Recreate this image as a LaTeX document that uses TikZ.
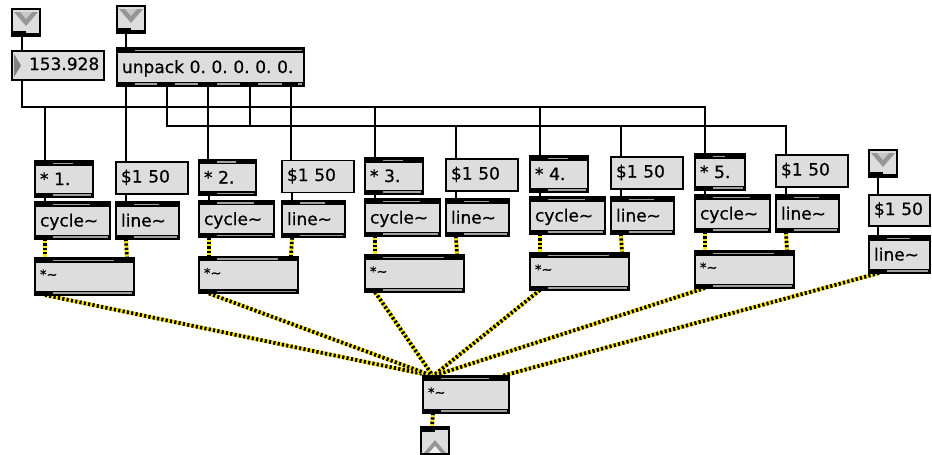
\documentclass[tikz,border=0pt]{standalone}
\usepackage{fontspec}
\setmainfont{DejaVu Sans}
\newfontfamily\mxface{DejaVu Sans}[FakeBold=0.6]
\definecolor{boxfill}{RGB}{221,221,221}
\definecolor{slotgray}{RGB}{160,160,160}
\definecolor{sigyellow}{RGB}{255,232,0}
\definecolor{chevdark}{RGB}{150,150,150}
\definecolor{chevlight}{RGB}{200,200,200}
\definecolor{numarrow}{RGB}{130,130,130}
\pgfdeclarelayer{paper}
\pgfdeclarelayer{cords}
\pgfsetlayers{paper,cords,main}
\newcommand\mxfont{\mxface\frenchspacing\fontsize{17}{19}\selectfont}
\newcommand\mxsmall{\mxface\frenchspacing\fontsize{13}{15}\selectfont}
\tikzset{
  frame/.style={draw=black, line width=1.3pt},
  lbl/.style={inner xsep=5pt, inner ysep=0pt, outer sep=0pt, align=left, font=\mxfont},
  objtxt/.style={lbl, text height=14pt, text depth=2pt},
  msgtxt/.style={lbl, text height=12.5pt, text depth=3.5pt},
  sigtxt/.style={lbl, font=\mxsmall, text height=10pt, text depth=5pt},
  portbox/.style={inner sep=0pt, outer sep=0pt},
  cord/.style={draw=black, line width=1.2pt},
  sigbase/.style={line width=3.8pt, draw=sigyellow},
  sigdash/.style={line width=3.8pt, draw=black, dash pattern=on 2.2pt off 2.2pt},
}
% named node spanning a box, carrying its text on one line
\newcommand\mxnode[7]{% style, name, x1, y1, x2, y2, text
  \pgfmathsetmacro\mxW{(#5)-(#3)}%
  \pgfmathsetmacro\mxH{(#6)-(#4)}%
  \pgfmathsetmacro\mxT{(#5)-(#3)-10}%
  \pgfmathsetmacro\mxX{((#3)+(#5))/2}%
  \pgfmathsetmacro\mxY{((#4)+(#6))/2}%
  \node[#1, minimum width=\mxW pt, minimum height=\mxH pt, text width=\mxT pt]
    (#2) at (\mxX,\mxY) {\mbox{#7}};}
% object box: grey body with black inlet and outlet bars
\newcommand\mxobj[7]{% style, name, x1, y1, x2, y2, text
  \fill[boxfill] ({#3},{#4}) rectangle ({#5},{#6});
  \fill[black] ({#3},{#4}) rectangle ({#5},{#4+4.5});
  \fill[black] ({#3},{#6-4.5}) rectangle ({#5},{#6});
  \fill[slotgray] ({#3+18},{#4+1.5}) rectangle ({#5-20},{#4+3});
  \fill[slotgray] ({#3+18},{#6-3}) rectangle ({#5-2},{#6-1.5});
  \draw[frame] ({#3},{#4}) rectangle ({#5},{#6});
  \mxnode{#1}{#2}{#3}{#4}{#5}{#6}{#7}}
% message box
\newcommand\mxmsg[5]{% name, x1, y1, x2, y2
  \fill[boxfill] ({#2},{#3}) rectangle ({#4},{#5});
  \draw[frame] ({#2},{#3}) rectangle ({#4},{#5});
  \mxnode{msgtxt}{#1}{#2}{#3}{#4}{#5}{\$1 50}}
% patcher inlet (28 x 27)
\newcommand\mxinlet[3]{% name, x1, y1
  \fill[boxfill] ({#2},{#3}) rectangle ({#2+28},{#3+27});
  \fill[chevdark] ({#2+2},{#3+3}) -- ({#2+26},{#3+3}) -- ({#2+14},{#3+17}) -- cycle;
  \fill[chevlight] ({#2+8},{#3+3}) -- ({#2+20},{#3+3}) -- ({#2+14},{#3+10}) -- cycle;
  \fill[black] ({#2},{#3+24}) rectangle ({#2+28},{#3+27});
  \fill[black] ({#2},{#3+22}) rectangle ({#2+14},{#3+27});
  \draw[frame] ({#2},{#3}) rectangle ({#2+28},{#3+27});
  \node[portbox, minimum width=28pt, minimum height=27pt] (#1) at ({#2+14},{#3+13.5}) {};}
% patcher outlet (28 x 27)
\newcommand\mxoutlet[3]{% name, x1, y1
  \fill[boxfill] ({#2},{#3}) rectangle ({#2+28},{#3+27});
  \fill[chevdark] ({#2+3},{#3+26}) -- ({#2+14},{#3+13}) -- ({#2+25},{#3+26}) -- cycle;
  \fill[white!92!gray] ({#2+8},{#3+26}) -- ({#2+14},{#3+19}) -- ({#2+20},{#3+26}) -- cycle;
  \fill[black] ({#2},{#3}) rectangle ({#2+28},{#3+3});
  \fill[black] ({#2},{#3}) rectangle ({#2+14},{#3+5});
  \draw[frame] ({#2},{#3}) rectangle ({#2+28},{#3+27});
  \node[portbox, minimum width=28pt, minimum height=27pt] (#1) at ({#2+14},{#3+13.5}) {};}
% one oscillator voice: * n. -> cycle~, $1 50 -> line~, both into *~
\newcommand\mxvoice[5]{% index, mul x, mul width, msg x, dy
  \pgfmathsetmacro\ga{#2+#3}%
  \pgfmathsetmacro\gb{#2+75}%
  \pgfmathsetmacro\gc{#2+99}%
  \pgfmathsetmacro\gd{#4+72}%
  \pgfmathsetmacro\gf{#4+63}%
  \pgfmathsetmacro\ya{161+#5}\pgfmathsetmacro\yb{197+#5}%
  \pgfmathsetmacro\yc{162+#5}\pgfmathsetmacro\yd{194+#5}%
  \pgfmathsetmacro\ye{202+#5}\pgfmathsetmacro\yf{239+#5}%
  \pgfmathsetmacro\yg{258+#5}\pgfmathsetmacro\yh{295+#5}%
  \mxobj{objtxt}{mul#1}{#2}{\ya}{\ga}{\yb}{* #1.}%
  \mxmsg{msg#1}{#4}{\yc}{\gd}{\yd}%
  \mxobj{objtxt}{cyc#1}{#2}{\ye}{\gb}{\yf}{cycle\textasciitilde}%
  \mxobj{objtxt}{line#1}{#4}{\ye}{\gf}{\yf}{line\textasciitilde}%
  \mxobj{sigtxt}{sm#1}{#2}{\yg}{\gc}{\yh}{*\textasciitilde}%
}
\newcommand\sigcord[2]{\draw[sigbase] #1 -- #2; \draw[sigdash] #1 -- #2;}

\begin{document}
\begin{tikzpicture}[x=1pt, y=-1pt]
\useasboundingbox (0,0) rectangle (932,455);
\begin{pgfonlayer}{paper}
  \fill[white] (0,0) rectangle (932,455);
\end{pgfonlayer}

% inputs
\mxinlet{in1}{12}{9}
\mxinlet{in2}{117}{6}
\fill[boxfill] (12,51) rectangle (104,80);
\draw[frame] (12,51) rectangle (104,80);
\fill[numarrow] (14,54) -- (21,65.5) -- (14,77) -- cycle;
\mxnode{msgtxt}{num}{12}{51}{104}{80}{\hspace*{12pt}153.928}

% unpack with five outlets
\fill[boxfill] (117,48) rectangle (304,86);
\fill[black] (117,48) rectangle (304,52.5);
\fill[black] (117,81.5) rectangle (304,86);
\fill[slotgray] (135,49.5) rectangle (302,51);
\foreach \a/\b in {135/157,175/198,217/240,258/282,298/302}
  \fill[slotgray] (\a,83) rectangle (\b,84.5);
\draw[frame] (117,48) rectangle (304,86);
\mxnode{objtxt}{unpack}{117}{48}{304}{86}{unpack 0. 0. 0. 0. 0.}

% five voices
\mxvoice{1}{35}{58}{116}{0}
\mxvoice{2}{199}{57}{282}{-1.5}
\mxvoice{3}{365}{58}{446}{-3}
\mxvoice{4}{530}{58}{611}{-5}
\mxvoice{5}{695}{50}{776}{-7}

% extra envelope on the right
\mxinlet{in3}{869}{150}
\mxmsg{msg6}{869}{195}{930}{226}
\mxobj{objtxt}{line6}{869}{236}{930}{273}{line\textasciitilde}

% mixer and output
\mxobj{sigtxt}{fin}{423}{376}{509}{413}{*\textasciitilde}
\mxoutlet{outl}{421}{427}

\begin{pgfonlayer}{cords}
  \coordinate (up1) at ([xshift=9pt]unpack.south west);
  \coordinate (up2) at ([xshift=50pt]unpack.south west);
  \coordinate (up3) at ([xshift=91pt]unpack.south west);
  \coordinate (up4) at ([xshift=133pt]unpack.south west);
  \coordinate (up5) at ([xshift=174pt]unpack.south west);
  \coordinate (busL) at (22,107);
  \coordinate (busR) at (705,107);
  \coordinate (busM) at (167,126);
  \coordinate (busE) at (786,126);

  \draw[cord] ([xshift=10pt]in1.south west) -- ([xshift=10pt]num.north west);
  \draw[cord] ([xshift=9pt]in2.south west) -- ([xshift=9pt]unpack.north west);
  \draw[cord] ([xshift=10pt]num.south west) -- (busL) -- (busR) -- ([xshift=10pt]mul5.north west);
  \draw[cord] (busL) -| ([xshift=10pt]mul1.north west);
  \draw[cord] (busL) -| ([xshift=10pt]mul3.north west);
  \draw[cord] (busL) -| ([xshift=10pt]mul4.north west);
  \draw[cord] (up1) -- (up1 |- msg1.north);
  \draw[cord] (up2) -- (busM) -- (busE) -- ([xshift=10pt]msg5.north west);
  \draw[cord] (up3) -- (up3 |- mul2.north);
  \draw[cord] (up4) |- (busM);
  \draw[cord] (up5) -- (up5 |- msg2.north);
  \draw[cord] (busM) -| ([xshift=10pt]msg3.north west);
  \draw[cord] (busM) -| ([xshift=10pt]msg4.north west);
  \foreach \k in {1,...,5} {
    \draw[cord] ([xshift=10pt]mul\k.south west) -- ([xshift=10pt]cyc\k.north west);
    \draw[cord] ([xshift=10pt]msg\k.south west) -- ([xshift=10pt]line\k.north west);
  }
  \draw[cord] ([xshift=9pt]in3.south west) -- ([xshift=9pt]msg6.north west);
  \draw[cord] ([xshift=9pt]msg6.south west) -- ([xshift=9pt]line6.north west);

  \foreach \k in {1,...,5} {
    \sigcord{([xshift=10pt]cyc\k.south west)}{([xshift=10pt]sm\k.north west)}
    \sigcord{([xshift=10pt]line\k.south west)}{([xshift=-7pt]sm\k.north east)}
    \sigcord{([xshift=10pt]sm\k.south west)}{([xshift=10pt]fin.north west)}
  }
  \sigcord{([xshift=10pt]line6.south west)}{([xshift=-7pt]fin.north east)}
  \sigcord{([xshift=10pt]fin.south west)}{([xshift=11pt]outl.north west)}
\end{pgfonlayer}
\end{tikzpicture}
\end{document}
